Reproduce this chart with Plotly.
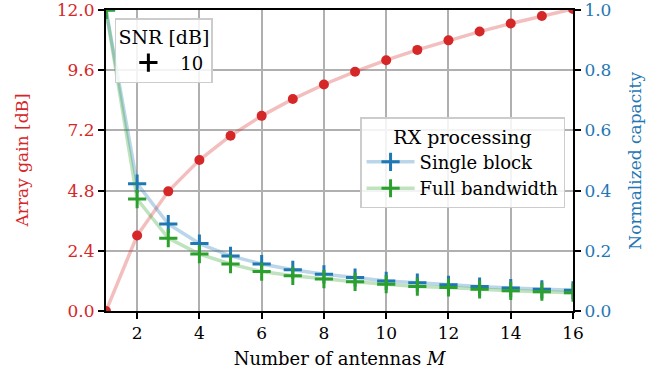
import plotly.graph_objects as go

M = list(range(1, 17))
array_gain_db = [0.0, 3.01, 4.77, 6.02, 6.99, 7.78, 8.45, 9.03, 9.54, 10.0,
                 10.41, 10.79, 11.14, 11.46, 11.76, 12.04]
cap_single = [1.0, 0.423, 0.289, 0.224, 0.183, 0.156, 0.137, 0.122, 0.111, 0.100,
              0.094, 0.087, 0.081, 0.076, 0.072, 0.069]
cap_full = [1.0, 0.372, 0.242, 0.189, 0.156, 0.131, 0.117, 0.106, 0.097, 0.089,
            0.081, 0.078, 0.072, 0.067, 0.064, 0.061]
snr_labels = ["10"]
x_ticks = [2, 4, 6, 8, 10, 12, 14, 16]
left_ticks = [0.0, 2.4, 4.8, 7.2, 9.6, 12.0]
right_ticks = [0.0, 0.2, 0.4, 0.6, 0.8, 1.0]

RED = "#d62728"
BLUE = "#1f77b4"
GREEN = "#2ca02c"
FONT = "DejaVu Serif"
FS = 17

fig = go.Figure()

fig.add_trace(go.Scatter(
    x=M, y=array_gain_db, mode="lines+markers", yaxis="y",
    line=dict(color="rgba(214,39,40,0.3)", width=3.5),
    marker=dict(color=RED, size=10, symbol="circle"),
    showlegend=False, name="Array gain"))

fig.add_trace(go.Scatter(
    x=M, y=cap_single, mode="lines+markers", yaxis="y2",
    line=dict(color="rgba(31,119,180,0.3)", width=3.5),
    marker=dict(symbol="cross-thin", size=13, line=dict(color=BLUE, width=3)),
    name="Single block", legend="legend"))

fig.add_trace(go.Scatter(
    x=M, y=cap_full, mode="lines+markers", yaxis="y2",
    line=dict(color="rgba(44,160,44,0.3)", width=3.5),
    marker=dict(symbol="cross-thin", size=13, line=dict(color=GREEN, width=3)),
    name="Full bandwidth", legend="legend"))

for lbl in snr_labels:
    fig.add_trace(go.Scatter(
        x=[None], y=[None], mode="markers", yaxis="y2",
        marker=dict(symbol="cross-thin", size=13, line=dict(color="black", width=3)),
        name=lbl, legend="legend2"))

fig.update_layout(
    width=663, height=382,
    margin=dict(l=106, r=90, t=10, b=71, autoexpand=False),
    plot_bgcolor="white", paper_bgcolor="white",
    font=dict(family=FONT, size=FS, color="black"),
    xaxis=dict(
        range=[1, 16], tickvals=x_ticks, ticks="outside", ticklen=6, tickwidth=1.5,
        tickcolor="black", showline=True, linecolor="black", linewidth=2, mirror=True,
        showgrid=True, gridcolor="#b0b0b0", gridwidth=1.5, zeroline=False, automargin=False,
        title=dict(text="Number of antennas <i>M</i>", font=dict(size=18), standoff=10),
    ),
    yaxis=dict(
        range=[0, 12], tickvals=left_ticks, tickformat=".1f", ticks="outside", ticklen=6,
        tickwidth=1.5, tickcolor="black", showline=True, linecolor="black", linewidth=2,
        showgrid=True, gridcolor="#b0b0b0", gridwidth=1.5, zeroline=False, automargin=False,
        ticklabeloverflow="allow", tickfont=dict(color=RED),
    ),
    yaxis2=dict(
        range=[0, 1], tickvals=right_ticks, tickformat=".1f", overlaying="y", side="right",
        ticks="outside", ticklen=6, tickwidth=1.5, tickcolor="black", showline=True,
        linecolor="black", linewidth=2, showgrid=False, zeroline=False, automargin=False,
        ticklabeloverflow="allow", tickfont=dict(color=BLUE),
    ),
    annotations=[
        dict(text="Array gain [dB]", xref="paper", yref="paper", x=-0.18, y=0.5,
             xanchor="center", yanchor="middle", textangle=-90, showarrow=False,
             font=dict(color=RED, size=FS)),
        dict(text="Normalized capacity", xref="paper", yref="paper", x=1.131, y=0.5,
             xanchor="center", yanchor="middle", textangle=-90, showarrow=False,
             font=dict(color=BLUE, size=FS)),
    ],
    legend=dict(
        x=0.983, y=0.643, xanchor="right", yanchor="top",
        bgcolor="rgba(255,255,255,0.85)", bordercolor="#cccccc", borderwidth=1.5,
        title=dict(text="RX processing", side="top center", font=dict(size=19)),
        font=dict(size=18), itemwidth=48, tracegroupgap=0,
    ),
    legend2=dict(
        x=0.019, y=0.973, xanchor="left", yanchor="top",
        bgcolor="rgba(255,255,255,0.85)", bordercolor="#cccccc", borderwidth=1.5,
        title=dict(text="SNR [dB]", side="top center", font=dict(size=19)),
        font=dict(size=18), itemwidth=54,
    ),
)

fig.write_html("out.html", config={"displayModeBar": False},
               post_script="document.body.style.margin='0';")
